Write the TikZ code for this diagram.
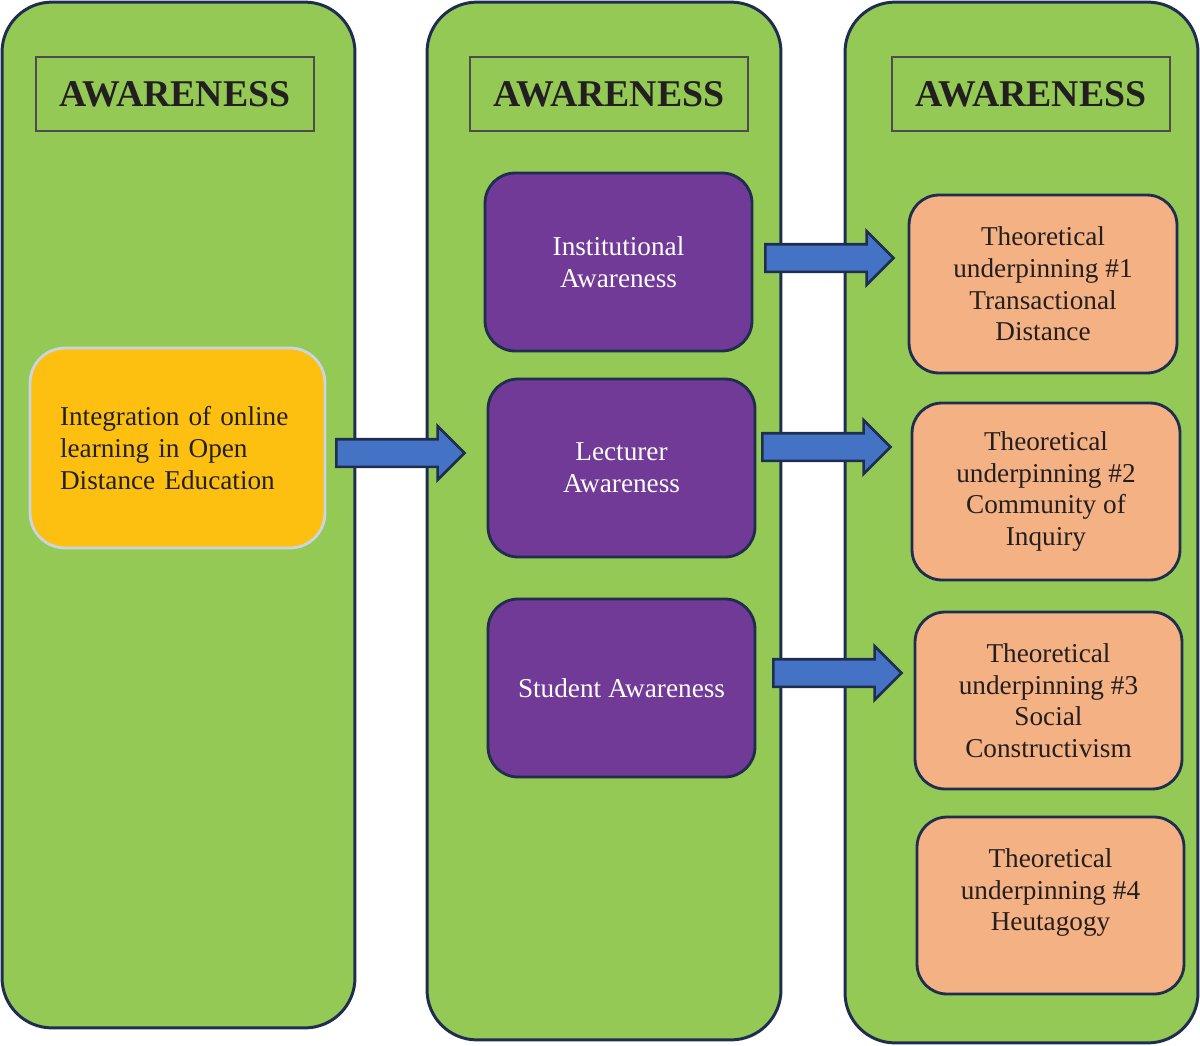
\documentclass[tikz,border=0pt]{standalone}
\usepackage{fontspec}
\setmainfont{Liberation Serif}
\usetikzlibrary{shapes.arrows}

\definecolor{colgreen}{HTML}{94C955}
\definecolor{navy}{HTML}{1F2D4F}
\definecolor{purplebox}{HTML}{703A96}
\definecolor{orangebox}{HTML}{F4B183}
\definecolor{yellowbox}{HTML}{FDC010}
\definecolor{yellowrim}{HTML}{C9D5E2}
\definecolor{arrowblue}{HTML}{4472C4}
\definecolor{inktext}{HTML}{231F20}

\tikzset{
  column/.style={draw=navy, line width=1.7pt, fill=colgreen, rounded corners=1cm,
    minimum width=7.06cm},
  header/.style={draw=inktext!80, line width=1.1pt, minimum width=5.56cm, minimum height=1.48cm,
    font=\fontsize{21.5}{25}\selectfont\bfseries, text=inktext},
  awarebox/.style={draw=navy, line width=1.6pt, fill=purplebox, rounded corners=0.6cm,
    minimum width=5.34cm, minimum height=3.56cm, align=center, text=white,
    font=\fontsize{15.5}{18}\selectfont},
  theorybox/.style={draw=navy, line width=1.6pt, fill=orangebox, rounded corners=0.6cm,
    minimum width=5.36cm, minimum height=3.56cm, align=center, text=inktext,
    font=\fontsize{15.5}{18}\selectfont},
  blockarrow/.style={single arrow, draw=navy, line width=1.5pt, fill=arrowblue,
    minimum height=2.56cm, inner xsep=0pt, inner ysep=0.25cm, text height=0pt, text depth=0pt,
    single arrow head extend=0.26cm}
}

\begin{document}
\begin{tikzpicture}[x=0.02cm, y=-0.02cm]
  \useasboundingbox (0,0) rectangle (1200,1045);

  % columns
  \node[column, minimum height=20.52cm] (col1) at (178.5,515) {};
  \node[column, minimum height=20.76cm, minimum width=7.08cm] (col2) at (604,521) {};
  \node[column, minimum height=20.82cm] (col3) at (1021.5,522.5) {};

  % headers
  \node[header] (head1) at (175,94) {AWARENESS};
  \node[header] (head2) at (609,94) {AWARENESS};
  \node[header] (head3) at (1031,94) {AWARENESS};

  % first column
  \node[draw=yellowrim, line width=1.6pt, fill=yellowbox, rounded corners=0.7cm,
    minimum width=5.9cm, minimum height=4cm, text width=4.7cm, align=left, text=inktext,
    font=\fontsize{15.5}{18}\selectfont] (online) at (177.5,448)
    {Integration of online\\learning in Open\\Distance Education};

  % second column
  \node[awarebox] (inst) at (618.5,262) {Institutional\\Awareness};
  \node[awarebox] (lect) at (621.5,468) {Lecturer\\Awareness};
  \node[awarebox] (stud) at (621.5,688) {Student Awareness};

  % third column
  \node[theorybox] (th1) at (1043,284) {Theoretical\\underpinning \#1\\Transactional\\Distance};
  \node[theorybox, minimum height=3.54cm] (th2) at (1046,491.5) {Theoretical\\underpinning \#2\\Community of\\Inquiry};
  \node[theorybox, minimum width=5.34cm, minimum height=3.54cm] (th3) at (1048.5,700.5) {Theoretical\\underpinning \#3\\Social\\Constructivism};
  \node[theorybox, minimum width=5.34cm, minimum height=3.54cm] (th4) at (1050.5,905.5) {Theoretical\\underpinning \#4\\Heutagogy\\\mbox{}};

  % arrows
  \node[blockarrow] (a0) at (393.5,453) {};
  \node[blockarrow] (a1) at (822.5,258) {};
  \node[blockarrow] (a2) at (819.5,447) {};
  \node[blockarrow] (a3) at (830.5,673) {};
\end{tikzpicture}
\end{document}
